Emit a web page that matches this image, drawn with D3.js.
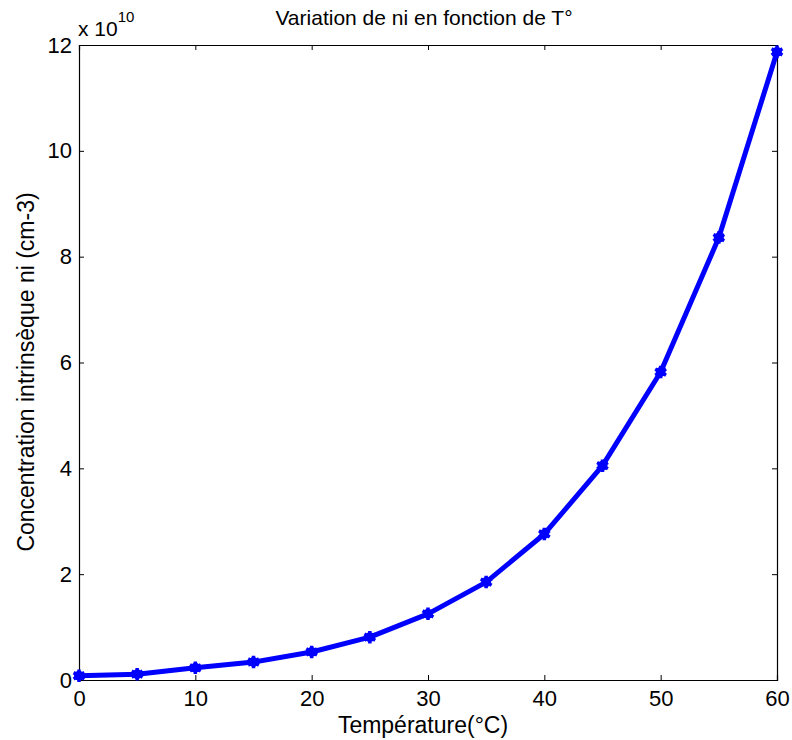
<!DOCTYPE html>
<html>
<head>
<meta charset="utf-8">
<script src="https://cdn.jsdelivr.net/npm/d3@7"></script>
<style>
  body { margin: 0; background: #fff; }
  svg { font-family: "Liberation Sans", Arial, sans-serif; }
</style>
</head>
<body>
<div id="container"></div>
<script>
// temperature (°C) and ni in units of 1e10 cm-3
var temps = [0, 5, 10, 15, 20, 25, 30, 35, 40, 45, 50, 55, 60];
var niVals = [0.08, 0.11, 0.23, 0.34, 0.53, 0.81, 1.25, 1.85, 2.76, 4.05, 5.82, 8.36, 11.87];
var xTicks = [0, 10, 20, 30, 40, 50, 60];
var yTicks = [0, 2, 4, 6, 8, 10, 12];

(function() {
  var W = 792, H = 740;
  var mL = 79, mR = 777, mT = 45, mB = 680;
  var fs = 22;

  var svg = d3.select('#container')
    .append('svg')
    .attr('width', W)
    .attr('height', H);

  var x = d3.scaleLinear().domain([0, 60]).range([mL, mR]);
  var y = d3.scaleLinear().domain([0, 12]).range([mB, mT]);

  var tl = 5;
  // axes, ticks inside like matlab
  svg.append('g').attr('transform', 'translate(0,' + mB + ')')
    .call(d3.axisBottom(x).tickValues(xTicks).tickSize(-tl).tickPadding(10));
  svg.append('g').attr('transform', 'translate(0,' + mT + ')')
    .call(d3.axisTop(x).tickValues(xTicks).tickSize(-tl).tickFormat(''));
  svg.append('g').attr('transform', 'translate(' + mL + ',0)')
    .call(d3.axisLeft(y).tickValues(yTicks).tickSize(-tl).tickPadding(7));
  svg.append('g').attr('transform', 'translate(' + mR + ',0)')
    .call(d3.axisRight(y).tickValues(yTicks).tickSize(-tl).tickFormat(''));

  svg.selectAll('.domain').attr('stroke', '#000').attr('stroke-width', 1.2);
  svg.selectAll('.tick line').attr('stroke', '#000');
  svg.selectAll('.tick text')
    .attr('font-size', fs)
    .attr('font-family', '"Liberation Sans", Arial, sans-serif')
    .attr('fill', '#000');

  // exponent label
  var ex = svg.append('text').attr('x', mL - 1).attr('y', 36)
    .attr('font-size', 21).attr('fill', '#000');
  ex.append('tspan').text('x 10');
  ex.append('tspan').attr('dy', -14).attr('font-size', 15).text('10');

  // title and axis labels
  svg.append('text').attr('x', 424).attr('y', 25)
    .attr('text-anchor', 'middle').attr('font-size', 21).text('Variation de ni en fonction de T°');
  svg.append('text').attr('x', 423).attr('y', 733)
    .attr('text-anchor', 'middle').attr('font-size', 23).text('Température(°C)');
  svg.append('text')
    .attr('transform', 'translate(34,372) rotate(-90)')
    .attr('text-anchor', 'middle').attr('font-size', 23).text('Concentration intrinsèque ni (cm-3)');

  var pts = temps.map(function(t, i) { return { t: t, v: niVals[i] }; });

  var line = d3.line()
    .x(function(d) { return x(d.t); })
    .y(function(d) { return y(d.v); });

  svg.append('path').datum(pts)
    .attr('d', line)
    .attr('fill', 'none')
    .attr('stroke', '#0000ff')
    .attr('stroke-width', 5)
    .attr('stroke-linejoin', 'round');

  var mk = svg.selectAll('g.mk').data(pts).enter().append('g')
    .attr('class', 'mk')
    .attr('transform', function(d) { return 'translate(' + x(d.t) + ',' + y(d.v) + ')'; });
  mk.append('path')
    .attr('d', d3.symbol().type(d3.symbolAsterisk).size(110))
    .attr('fill', 'none')
    .attr('stroke', '#0000ff')
    .attr('stroke-width', 3.5);
  mk.append('circle').attr('r', 5).attr('fill', '#0000ff');
})();
</script>
</body>
</html>
